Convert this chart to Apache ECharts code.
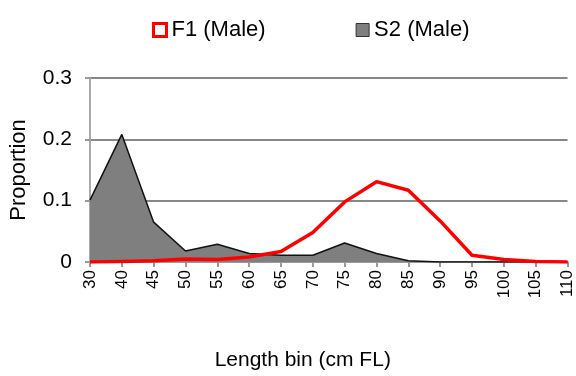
<!DOCTYPE html>
<html style='height: 100%'>
<head>
    <meta charset='utf-8'>
</head>
<body style='height: 100%; margin: 0'>
    <div id='container' style='width: 576px; height: 376px'></div>
    <script src='https://cdn.jsdelivr.net/npm/echarts@6/dist/echarts.min.js'></script>
    <script type='text/javascript'>

var dom = document.getElementById('container');
var myChart = echarts.init(dom);

// length bins (note: no 35 bin in the source)
var lengthBins = ['30', '40', '45', '50', '55', '60', '65', '70', '75', '80', '85', '90', '95', '100', '105', '110'];
var f1Male = [0, 0.001, 0.002, 0.005, 0.004, 0.008, 0.017, 0.048, 0.098, 0.131, 0.117, 0.067, 0.011, 0.004, 0.001, 0];
var s2Male = [0.101, 0.208, 0.065, 0.018, 0.029, 0.014, 0.011, 0.011, 0.031, 0.014, 0.002, 0, 0, 0, 0, 0];
var yTicks = [0, 0.1, 0.2, 0.3];

var font = 'Liberation Sans, Arial, sans-serif';

option = {
    animation: false,
    textStyle: { fontFamily: font },
    legend: {
        left: 147,
        top: 14,
        itemGap: 90,
        itemWidth: 13,
        itemHeight: 13,
        textStyle: { fontFamily: font, fontSize: 22, color: '#000' },
        data: [
            { name: 'F1 (Male)', icon: 'rect', itemStyle: { color: '#fff', borderColor: '#ff0000', borderWidth: 3 } },
            { name: 'S2 (Male)', icon: 'rect', itemStyle: { color: '#7f7f7f', borderColor: '#333', borderWidth: 1 } }
        ]
    },
    grid: { left: 87, right: 5, top: 78, bottom: 114, containLabel: false },
    xAxis: {
        type: 'category',
        data: lengthBins,
        boundaryGap: false,
        name: 'Length bin (cm FL)',
        nameLocation: 'middle',
        nameGap: 88,
        nameTextStyle: { fontFamily: font, fontSize: 21, color: '#000', padding: [0, 52, 0, 0] },
        axisLine: { lineStyle: { color: '#999', width: 2 } },
        axisTick: { alignWithLabel: true, length: 5, lineStyle: { color: '#999', width: 2 } },
        axisLabel: { rotate: 90, interval: 0, fontSize: 17, color: '#000', margin: 8 }
    },
    yAxis: {
        type: 'value',
        min: yTicks[0],
        max: yTicks[yTicks.length - 1],
        interval: 0.1,
        name: 'Proportion',
        nameLocation: 'middle',
        nameGap: 60,
        nameTextStyle: { fontFamily: font, fontSize: 22, color: '#000' },
        axisLine: { show: true, lineStyle: { color: '#aaa', width: 2 } },
        axisTick: { show: true, length: 5, lineStyle: { color: '#999', width: 2 } },
        axisLabel: { fontSize: 21, color: '#000', margin: 18 },
        splitLine: { lineStyle: { color: '#888', width: 2 } }
    },
    series: [
        {
            name: 'S2 (Male)',
            type: 'line',
            data: s2Male,
            showSymbol: false,
            z: 2,
            lineStyle: { color: '#111', width: 1.5 },
            itemStyle: { color: '#7f7f7f' },
            areaStyle: { color: '#7f7f7f', opacity: 1 }
        },
        {
            name: 'F1 (Male)',
            type: 'line',
            data: f1Male,
            showSymbol: false,
            z: 3,
            lineStyle: { color: '#ff0000', width: 3.5 },
            itemStyle: { color: '#fff', borderColor: '#ff0000' }
        }
    ]
};

if (option && typeof option === 'object') {
    myChart.setOption(option, true);
}
    </script>
</body>
</html>
